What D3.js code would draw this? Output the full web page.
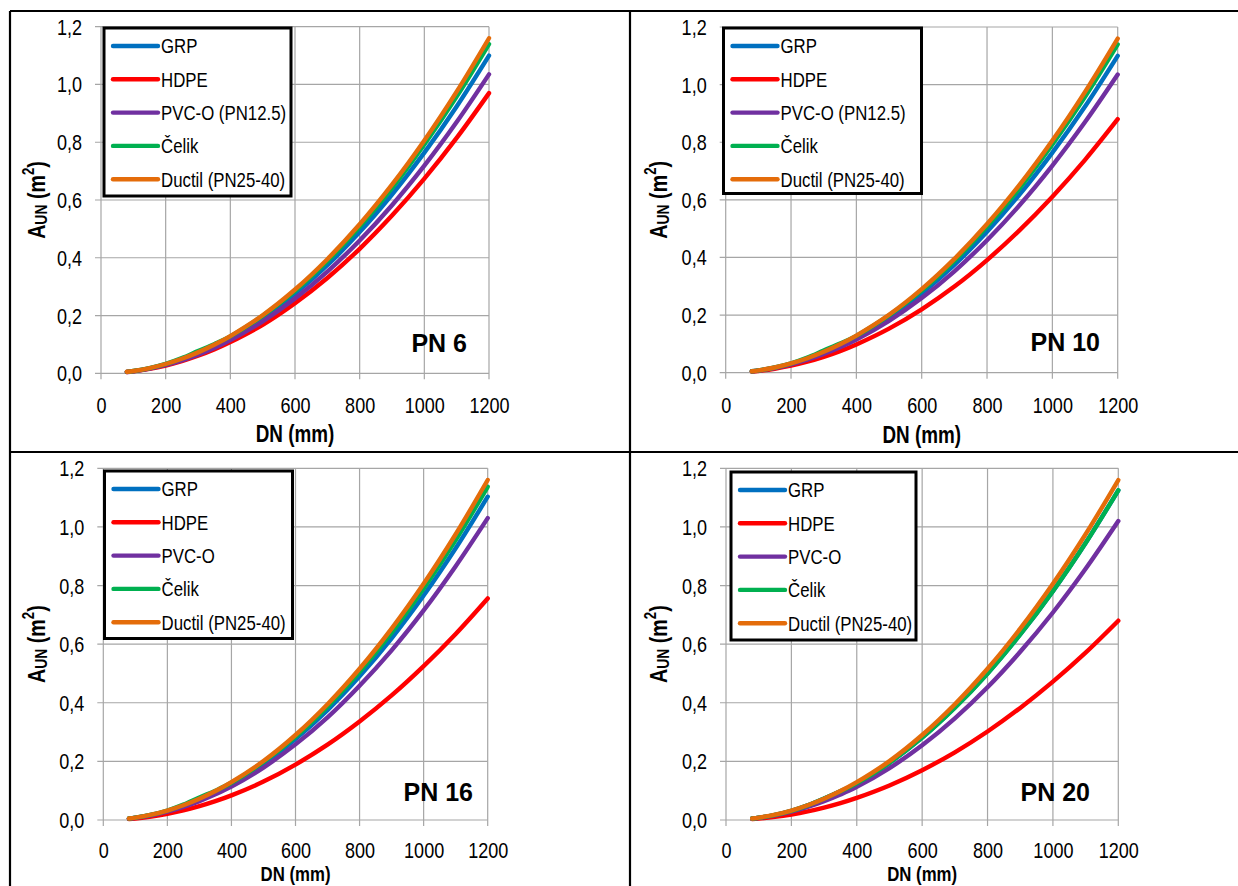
<!DOCTYPE html>
<html>
<head>
<meta charset="utf-8">
<script src="https://cdn.jsdelivr.net/npm/d3@7"></script>
<style>
  html, body { margin: 0; padding: 0; background: #fff; }
  svg { display: block; }
  .narrow { font-family: 'Liberation Sans', Arial, sans-serif; }
  .wide { font-family: 'Liberation Sans', Arial, sans-serif; }
</style>
</head>
<body>
<svg id="chart" width="1238" height="886"></svg>
<script>
// ---------- DATA ----------
const dn = [80, 100, 150, 200, 250, 300, 350, 400, 500, 600, 700, 800, 900, 1000, 1100, 1200];

const xTicks = [0, 200, 400, 600, 800, 1000, 1200];
const xTickLabels = ["0", "200", "400", "600", "800", "1000", "1200"];
const yTicks = [0, 0.2, 0.4, 0.6, 0.8, 1.0, 1.2];
const yTickLabels = ["0,0", "0,2", "0,4", "0,6", "0,8", "1,0", "1,2"];

const seriesNames = ["GRP", "HDPE", "PVC-O", "Čelik", "Ductil (PN25-40)"];
const seriesColors = ["#0070C0", "#FF0000", "#7030A0", "#00B050", "#E46C0A"];

// PN 6
const pn6Grp    = [0.0049, 0.0076, 0.0172, 0.0306, 0.0477, 0.0688, 0.0936, 0.122, 0.191, 0.275, 0.374, 0.489, 0.619, 0.764, 0.924, 1.100];
const pn6Hdpe   = [0.0043, 0.0067, 0.0152, 0.0269, 0.0421, 0.0606, 0.0825, 0.108, 0.168, 0.243, 0.330, 0.431, 0.546, 0.674, 0.815, 0.970];
const pn6Pvc    = [0.0046, 0.0072, 0.0162, 0.0288, 0.0449, 0.0647, 0.0880, 0.115, 0.180, 0.259, 0.352, 0.460, 0.582, 0.719, 0.870, 1.035];
const pn6Celik  = [0.0051, 0.0079, 0.0180, 0.0325, 0.0525, 0.0770, 0.1010, 0.128, 0.199, 0.285, 0.388, 0.507, 0.641, 0.792, 0.958, 1.140];
const pn6Ductil = [0.0052, 0.0081, 0.0181, 0.0322, 0.0503, 0.0725, 0.0987, 0.129, 0.201, 0.290, 0.395, 0.516, 0.653, 0.806, 0.975, 1.160];

// PN 10
const pn10Grp    = [0.0049, 0.0076, 0.0172, 0.0306, 0.0477, 0.0688, 0.0936, 0.122, 0.191, 0.275, 0.374, 0.489, 0.619, 0.764, 0.924, 1.100];
const pn10Hdpe   = [0.0039, 0.0061, 0.0138, 0.0244, 0.0382, 0.0550, 0.0749, 0.098, 0.153, 0.220, 0.299, 0.391, 0.495, 0.611, 0.739, 0.880];
const pn10Pvc    = [0.0046, 0.0072, 0.0162, 0.0288, 0.0449, 0.0647, 0.0880, 0.115, 0.180, 0.259, 0.352, 0.460, 0.582, 0.719, 0.870, 1.035];
const pn10Celik  = [0.0051, 0.0079, 0.0180, 0.0325, 0.0525, 0.0770, 0.1010, 0.128, 0.199, 0.285, 0.388, 0.507, 0.641, 0.792, 0.958, 1.140];
const pn10Ductil = [0.0052, 0.0081, 0.0181, 0.0322, 0.0503, 0.0725, 0.0987, 0.129, 0.201, 0.290, 0.395, 0.516, 0.653, 0.806, 0.975, 1.160];

// PN 16
const pn16Grp    = [0.0049, 0.0076, 0.0172, 0.0306, 0.0477, 0.0688, 0.0936, 0.122, 0.191, 0.276, 0.375, 0.490, 0.620, 0.766, 0.927, 1.103];
const pn16Hdpe   = [0.0034, 0.0053, 0.0118, 0.0210, 0.0328, 0.0473, 0.0643, 0.084, 0.131, 0.189, 0.257, 0.336, 0.425, 0.525, 0.635, 0.756];
const pn16Pvc    = [0.0046, 0.0072, 0.0161, 0.0286, 0.0447, 0.0644, 0.0876, 0.114, 0.179, 0.258, 0.350, 0.458, 0.579, 0.715, 0.866, 1.030];
const pn16Celik  = [0.0051, 0.0079, 0.0180, 0.0325, 0.0525, 0.0770, 0.1000, 0.127, 0.198, 0.284, 0.387, 0.505, 0.639, 0.790, 0.955, 1.137];
const pn16Ductil = [0.0052, 0.0081, 0.0181, 0.0322, 0.0503, 0.0725, 0.0987, 0.129, 0.201, 0.290, 0.395, 0.516, 0.653, 0.806, 0.975, 1.160];

// PN 20
const pn20Grp    = [0.0050, 0.0078, 0.0176, 0.0313, 0.0500, 0.0730, 0.0980, 0.125, 0.195, 0.281, 0.383, 0.500, 0.633, 0.781, 0.945, 1.125];
const pn20Hdpe   = [0.0030, 0.0047, 0.0106, 0.0189, 0.0295, 0.0425, 0.0578, 0.0756, 0.118, 0.170, 0.231, 0.302, 0.3825, 0.472, 0.571, 0.680];
const pn20Pvc    = [0.0045, 0.0071, 0.0159, 0.0283, 0.0443, 0.0638, 0.0868, 0.113, 0.177, 0.255, 0.347, 0.453, 0.574, 0.708, 0.857, 1.020];
const pn20Celik  = [0.0050, 0.0078, 0.0176, 0.0313, 0.0500, 0.0730, 0.0980, 0.125, 0.195, 0.281, 0.383, 0.500, 0.633, 0.781, 0.945, 1.125];
const pn20Ductil = [0.0052, 0.0081, 0.0181, 0.0322, 0.0503, 0.0725, 0.0987, 0.129, 0.201, 0.290, 0.395, 0.516, 0.653, 0.806, 0.975, 1.160];

const panelTitles = ["PN 6", "PN 10", "PN 16", "PN 20"];
const pvcLegendLabels = ["PVC-O (PN12.5)", "PVC-O (PN12.5)", "PVC-O", "PVC-O"];

// ---------- LAYOUT ----------
const panels = [
  { title: panelTitles[0], pvc: pvcLegendLabels[0], data: [pn6Grp, pn6Hdpe, pn6Pvc, pn6Celik, pn6Ductil],
    x0: 101, x1: 489, yT: 26.7, yB: 373.3, leg: { x: 104, y: 28, w: 187, h: 168 },
    titleRight: 467, titleBase: 352, dnBase: 441.5, dnSize: 23, tickBase: 40, yLabX: 38 },
  { title: panelTitles[1], pvc: pvcLegendLabels[1], data: [pn10Grp, pn10Hdpe, pn10Pvc, pn10Celik, pn10Ductil],
    x0: 725.7, x1: 1117.7, yT: 27, yB: 372.7, leg: { x: 723.5, y: 28, w: 198, h: 165.5 },
    titleRight: 1100, titleBase: 351, dnBase: 442.5, dnSize: 23, tickBase: 40, yLabX: 660 },
  { title: panelTitles[2], pvc: pvcLegendLabels[2], data: [pn16Grp, pn16Hdpe, pn16Pvc, pn16Celik, pn16Ductil],
    x0: 103.3, x1: 487.7, yT: 468.3, yB: 820, leg: { x: 104.5, y: 471, w: 188, h: 167.5 },
    titleRight: 473, titleBase: 800.5, dnBase: 881, dnSize: 20.5, tickBase: 37.5, yLabX: 38 },
  { title: panelTitles[3], pvc: pvcLegendLabels[3], data: [pn20Grp, pn20Hdpe, pn20Pvc, pn20Celik, pn20Ductil],
    x0: 726, x1: 1118.3, yT: 468.3, yB: 820, leg: { x: 731, y: 472, w: 185, h: 168 },
    titleRight: 1090, titleBase: 800.5, dnBase: 881, dnSize: 20.5, tickBase: 37.5, yLabX: 660 }
];

const SX = 0.82; // horizontal condensing, imitating a narrow face
function condense(sel) {
  sel.each(function () {
    const t = d3.select(this);
    const x = +t.attr("x") || 0;
    const y = +t.attr("y") || 0;
    const prev = t.attr("transform") || "";
    t.attr("transform", `${prev} translate(${x},${y}) scale(${SX},1)`).attr("x", 0).attr("y", 0);
  });
}

const svg = d3.select("#chart");
const gridColor = "#A6A6A6";

// cell borders
const borders = svg.append("g").attr("stroke", "#000").attr("stroke-width", 2.2).attr("fill", "none");
borders.append("line").attr("x1", 10).attr("y1", 11).attr("x2", 1238).attr("y2", 11);
borders.append("line").attr("x1", 10).attr("y1", 11).attr("x2", 10).attr("y2", 886);
borders.append("line").attr("x1", 630).attr("y1", 11).attr("x2", 630).attr("y2", 886);
borders.append("line").attr("x1", 10).attr("y1", 452).attr("x2", 1238).attr("y2", 452);

panels.forEach(p => {
  const x = d3.scaleLinear().domain([0, 1200]).range([p.x0, p.x1]);
  const y = d3.scaleLinear().domain([0, 1.2]).range([p.yB, p.yT]);
  const g = svg.append("g");

  // grid
  const grid = g.append("g").attr("stroke", gridColor).attr("stroke-width", 1.2);
  xTicks.forEach(t => grid.append("line")
    .attr("x1", x(t)).attr("x2", x(t)).attr("y1", y(1.2)).attr("y2", y(0) + 6));
  yTicks.forEach(t => grid.append("line")
    .attr("x1", x(0) - 6).attr("x2", x(1200)).attr("y1", y(t)).attr("y2", y(t)));

  // axes (labels)
  const xAxis = d3.axisBottom(x).tickValues(xTicks).tickSize(0).tickSizeOuter(0)
    .tickFormat((d, i) => xTickLabels[i]);
  const xg = g.append("g").attr("transform", `translate(0,${y(0)})`).call(xAxis);
  xg.select(".domain").remove();
  xg.selectAll("text").attr("class", "narrow").attr("font-size", 22).attr("fill", "#000")
    .attr("y", p.tickBase).attr("dy", 0).call(condense);

  const yAxis = d3.axisLeft(y).tickValues(yTicks).tickSize(0).tickSizeOuter(0)
    .tickFormat((d, i) => yTickLabels[i]);
  const yg = g.append("g").attr("transform", `translate(${x(0)},0)`).call(yAxis);
  yg.select(".domain").remove();
  yg.selectAll("text").attr("class", "narrow").attr("font-size", 22).attr("fill", "#000")
    .attr("x", -19).attr("dy", "0.34em").call(condense);

  // axis titles
  g.append("text").attr("class", "narrow")
    .attr("x", (p.x0 + p.x1) / 2).attr("y", p.dnBase)
    .attr("text-anchor", "middle").attr("font-size", p.dnSize).attr("font-weight", "bold")
    .text("DN (mm)").call(condense);

  const yl = g.append("text").attr("class", "narrow")
    .attr("transform", `translate(${p.yLabX},${(p.yT + p.yB) / 2}) rotate(-90)`)
    .attr("text-anchor", "middle").attr("dominant-baseline", "middle")
    .attr("font-size", 24).attr("font-weight", "bold");
  yl.append("tspan").text("A");
  yl.append("tspan").attr("font-size", 17).attr("dy", 5).text("UN");
  yl.append("tspan").attr("dy", -5).text(" (m");
  yl.append("tspan").attr("font-size", 16).attr("dy", -8).text("2");
  yl.append("tspan").attr("dy", 8).text(")");
  yl.call(condense);

  // series
  const line = d3.line().x((d, i) => x(dn[i])).y(d => y(d)).curve(d3.curveCatmullRom.alpha(0.5));
  p.data.forEach((vals, si) => {
    g.append("path").datum(vals)
      .attr("d", line)
      .attr("fill", "none")
      .attr("stroke", seriesColors[si])
      .attr("stroke-width", 4.4)
      .attr("stroke-linecap", "round")
      .attr("stroke-linejoin", "round");
  });

  // panel title
  g.append("text").attr("class", "wide")
    .attr("x", p.titleRight).attr("y", p.titleBase)
    .attr("text-anchor", "end").attr("font-size", 25).attr("font-weight", "bold")
    .text(p.title);

  // legend
  const L = p.leg;
  const lg = g.append("g");
  lg.append("rect").attr("x", L.x).attr("y", L.y).attr("width", L.w).attr("height", L.h)
    .attr("fill", "#fff").attr("stroke", "#000").attr("stroke-width", 3);
  seriesNames.forEach((nm, i) => {
    const ry = L.y + 18 + i * 33.3;
    lg.append("line").attr("x1", L.x + 9).attr("x2", L.x + 54).attr("y1", ry).attr("y2", ry)
      .attr("stroke", seriesColors[i]).attr("stroke-width", 4.4).attr("stroke-linecap", "round");
    lg.append("text").attr("class", "narrow").attr("x", L.x + 57).attr("y", ry)
      .attr("dy", "0.36em").attr("font-size", 20.5).attr("fill", "#000")
      .text(i === 2 ? p.pvc : nm).call(condense);
  });
});
</script>
</body>
</html>
